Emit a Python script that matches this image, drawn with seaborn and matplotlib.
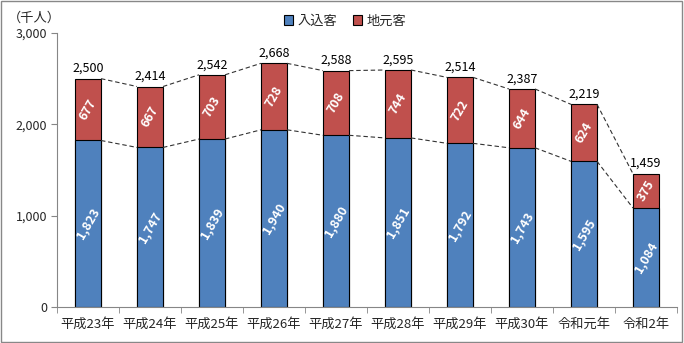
import matplotlib
matplotlib.use("Agg")
import matplotlib.pyplot as plt
import seaborn as sns
import pandas as pd
import numpy as np
from matplotlib.patches import Patch

categories = ["平成23年", "平成24年", "平成25年", "平成26年", "平成27年",
              "平成28年", "平成29年", "平成30年", "令和元年", "令和2年"]
irikomi = [1823, 1747, 1839, 1940, 1880, 1851, 1792, 1743, 1595, 1084]
jimoto = [677, 667, 703, 728, 708, 744, 722, 644, 624, 375]
totals = [2500, 2414, 2542, 2668, 2588, 2595, 2514, 2387, 2219, 1459]

sns.set_style("white")
plt.rcParams['font.family'] = ['Noto Sans CJK JP', 'DejaVu Sans']

blue = "#4F81BD"
red = "#C0504D"

df = pd.DataFrame({"cat": categories, "irikomi": irikomi, "jimoto": jimoto, "total": totals})

fig = plt.figure(figsize=(6.84, 3.43), dpi=100)
ax = fig.add_axes([57/684, 1-307/343, 620/684, 274/343])

bw = 0.42
sns.barplot(data=df, x="cat", y="total", color=red, width=bw, ax=ax,
            edgecolor="black", linewidth=0.8, saturation=1)
sns.barplot(data=df, x="cat", y="irikomi", color=blue, width=bw, ax=ax,
            edgecolor="black", linewidth=0.8, saturation=1)

x = np.arange(len(categories))
for i in range(len(categories) - 1):
    for series in (irikomi, totals):
        ax.plot([x[i] + bw/2, x[i+1] - bw/2], [series[i], series[i+1]],
                color="#333333", linestyle=(0, (4, 2.5)), linewidth=0.8)

for i in range(len(categories)):
    ax.text(x[i], totals[i] + 40, f"{totals[i]:,}", ha="center", va="bottom",
            fontsize=9, color="black")
    ax.text(x[i], irikomi[i] / 2, f"{irikomi[i]:,}", ha="center", va="center",
            rotation=60, fontsize=9, color="white", fontweight="bold")
    ax.text(x[i], irikomi[i] + jimoto[i] / 2, f"{jimoto[i]:,}", ha="center", va="center",
            rotation=60, fontsize=9, color="white", fontweight="bold")

ax.set_xlim(-0.5, len(categories) - 0.5)
ax.set_ylim(0, 3000)
ax.set_yticks([0, 1000, 2000, 3000])
ax.set_yticklabels(["0", "1,000", "2,000", "3,000"], fontsize=9)
ax.set_xticks(x)
ax.set_xticklabels(categories, fontsize=9.5)
ax.set_xlabel("")
ax.set_ylabel("")

for s in ["top", "right"]:
    ax.spines[s].set_visible(False)
for s in ["left", "bottom"]:
    ax.spines[s].set_color("#868686")
    ax.spines[s].set_linewidth(0.8)

ax.tick_params(axis="x", length=0, pad=8)
ax.tick_params(axis="y", length=4, color="#868686", direction="out", left=True, pad=3)
ax.set_xticks(np.arange(-0.5, len(categories)), minor=True)
ax.tick_params(axis="x", which="minor", length=4, color="#868686", direction="out", bottom=True)

handles = [Patch(facecolor=blue, edgecolor="black", linewidth=0.8, label="入込客"),
           Patch(facecolor=red, edgecolor="black", linewidth=0.8, label="地元客")]
fig.legend(handles=handles, loc="center", bbox_to_anchor=(345/684, 1-21/343), ncol=2,
           frameon=False, fontsize=9.5, handlelength=0.7, handleheight=0.7,
           handletextpad=0.3, columnspacing=1.2)

fig.text(8/684, 1-18/343, "（千人）", fontsize=9.5, ha="left", va="center")

border = plt.Rectangle((0.002, 0.003), 0.995, 0.994, transform=fig.transFigure,
                       fill=False, edgecolor="#888888", linewidth=1)
fig.patches.append(border)

fig.savefig("out.png", dpi=100)
